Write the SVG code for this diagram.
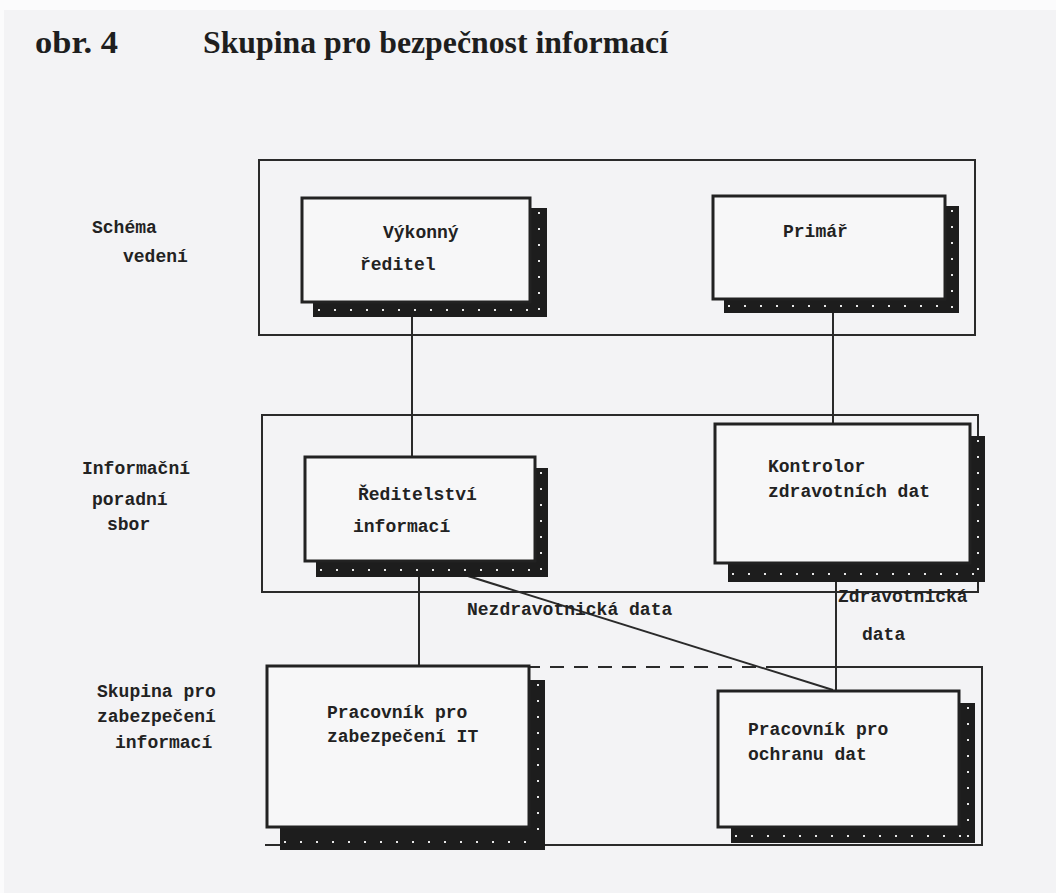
<svg xmlns="http://www.w3.org/2000/svg" width="1056" height="893" viewBox="0 0 1056 893">
<style>
.title{font-family:"Liberation Serif",serif;font-weight:bold;font-size:32px;fill:#1e1e1e}
.t{font-family:"Liberation Mono",monospace;font-weight:bold;font-size:18px;fill:#222}
.band{fill:none;stroke:#2a2a2a;stroke-width:2}
.box{fill:#f7f7f8;stroke:#222;stroke-width:3}
.sh{fill:#1d1d1d}
.dots{stroke:#e8e8e8;stroke-width:2;stroke-dasharray:2 14;fill:none}
.ln{stroke:#2a2a2a;stroke-width:2;fill:none}
</style>
<rect x="0" y="0" width="1056" height="893" fill="#fbfbfc"/>
<rect x="4" y="10" width="1052" height="883" fill="#f3f3f5"/>
<g id="title">
<text class="title" x="35" y="53" textLength="83" lengthAdjust="spacingAndGlyphs">obr. 4</text>
<text class="title" x="203" y="53" textLength="465" lengthAdjust="spacingAndGlyphs">Skupina pro bezpečnost informací</text>
</g>
<g id="bands">
<rect class="band" x="259" y="160" width="716" height="175"/>
<rect class="band" x="262" y="415" width="716" height="177"/>
<path class="band" d="M265 845 L982 845 L982 667 L780 667"/>
<path class="band" d="M780 667 L529 667" stroke-dasharray="14 10"/>
</g>
<g id="row-labels">
<text class="t" x="92" y="233">Schéma</text>
<text class="t" x="123" y="262">vedení</text>
<text class="t" x="82" y="474">Informační</text>
<text class="t" x="92" y="505">poradní</text>
<text class="t" x="107" y="530">sbor</text>
<text class="t" x="97" y="697">Skupina pro</text>
<text class="t" x="97" y="722">zabezpečení</text>
<text class="t" x="115" y="748">informací</text>
</g>
<g id="connectors">
<line class="ln" x1="412" y1="317" x2="412" y2="457"/>
<line class="ln" x1="833" y1="313" x2="833" y2="424"/>
<line class="ln" x1="419" y1="561" x2="419" y2="666"/>
<line class="ln" x1="836" y1="563" x2="836" y2="691"/>
<line class="ln" x1="420" y1="561" x2="833" y2="690" stroke-width="2.5"/>
<text class="t" x="467" y="615">Nezdravotnická data</text>
<text class="t" x="838" y="602">Zdravotnická</text>
<text class="t" x="862" y="640">data</text>
</g>
<g id="vykonny">
<path class="sh" d="M313 208 H547 V317 H313 Z"/>
<path class="dots" d="M539 212 V312 M318 310 H540"/>
<rect class="box" x="302" y="198" width="228" height="104"/>
<text class="t" x="383" y="238">Výkonný</text>
<text class="t" x="360" y="270">ředitel</text>
</g>
<g id="primar">
<path class="sh" d="M724 206 H959 V313 H724 Z"/>
<path class="dots" d="M952 210 V308 M728 306 H952"/>
<rect class="box" x="713" y="196" width="232" height="103"/>
<text class="t" x="783" y="237">Primář</text>
</g>
<g id="reditelstvi">
<path class="sh" d="M316 468 H548 V577 H316 Z"/>
<path class="dots" d="M541 472 V572 M320 570 H541"/>
<rect class="box" x="305" y="457" width="230" height="104"/>
<text class="t" x="358" y="500">Ředitelství</text>
<text class="t" x="353" y="532">informací</text>
</g>
<g id="kontrolor">
<path class="sh" d="M728 436 H985 V582 H728 Z"/>
<path class="dots" d="M978 440 V576 M732 574 H978"/>
<rect class="box" x="715" y="424" width="255" height="139"/>
<text class="t" x="768" y="472">Kontrolor</text>
<text class="t" x="768" y="497">zdravotních dat</text>
</g>
<g id="pracovnik-it">
<path class="sh" d="M280 680 H545 V850 H280 Z"/>
<path class="dots" d="M538 684 V844 M284 842 H538"/>
<rect class="box" x="267" y="666" width="262" height="161"/>
<text class="t" x="327" y="718">Pracovník pro</text>
<text class="t" x="327" y="742">zabezpečení IT</text>
</g>
<g id="pracovnik-dat">
<path class="sh" d="M731 703 H975 V843 H731 Z"/>
<path class="dots" d="M968 707 V838 M735 836 H968"/>
<rect class="box" x="718" y="691" width="241" height="136"/>
<text class="t" x="748" y="735">Pracovník pro</text>
<text class="t" x="748" y="760">ochranu dat</text>
</g>
</svg>
